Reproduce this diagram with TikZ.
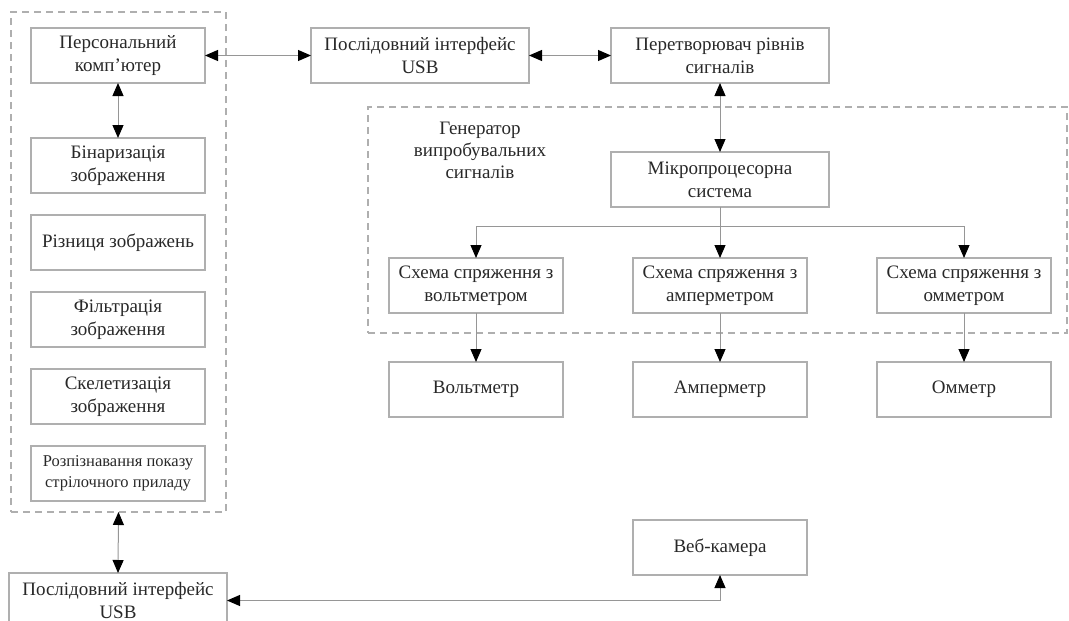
\documentclass[tikz,border=0pt]{standalone}
\usepackage{fontspec}
\setmainfont{Liberation Serif}
\usetikzlibrary{arrows.meta,positioning,calc,fit}

\definecolor{boxgray}{RGB}{175,175,175}
\definecolor{linegray}{RGB}{150,150,150}
\definecolor{textgray}{RGB}{40,40,40}

\tikzset{
  blk/.style={draw=boxgray, line width=1.3pt, minimum width=174pt, minimum height=55pt,
    inner sep=1pt, outer sep=0pt, align=center, text=textgray, font=\fontsize{19}{23}\selectfont},
  wide/.style={blk, minimum width=218pt},
  small/.style={font=\fontsize{16.5}{21}\selectfont},
  frame/.style={draw=boxgray, line width=1.3pt, dash pattern=on 7pt off 5pt, inner sep=0pt, outer sep=0pt},
  link/.style={draw=linegray, line width=1pt,
    {Triangle[length=13pt,width=11pt,color=black]}-{Triangle[length=13pt,width=11pt,color=black]}},
  fwd/.style={draw=linegray, line width=1pt, -{Triangle[length=13pt,width=11pt,color=black]}},
  txt/.style={align=center, text=textgray, font=\fontsize{19}{22}\selectfont}
}

\begin{document}
\begin{tikzpicture}
      \useasboundingbox (0,0) rectangle (1069pt,-621pt);
      % nodes

      % computer side
      \node[blk] (pc) at (118pt,-55.5pt) {Персональний\\комп’ютер};
      \node[blk, below=55pt of pc] (bin) {Бінаризація\\зображення};
      \node[blk, below=22pt of bin] (diff) {Різниця зображень};
      \node[blk, below=22pt of diff] (filt) {Фільтрація\\зображення};
      \node[blk, below=22pt of filt] (skel) {Скелетизація\\зображення};
      \node[blk, small, below=22pt of skel] (recog) {Розпізнавання показу\\стрілочного приладу};

      % interface chain
      \node[wide, right=106pt of pc] (usb_top) {Послідовний інтерфейс\\USB};
      \node[wide, right=82pt of usb_top] (conv) {Перетворювач рівнів\\сигналів};
      \node[wide, below=69pt of conv] (mcu) {Мікропроцесорна\\система};

      % interface circuits
      \node[blk, below=51pt of mcu] (sch_amp) {Схема спряження з\\амперметром};
      \node[blk, left=70pt of sch_amp] (sch_volt) {Схема спряження з\\вольтметром};
      \node[blk, right=70pt of sch_amp] (sch_ohm) {Схема спряження з\\омметром};

      % meters
      \node[blk, below=49pt of sch_volt] (voltmeter) {Вольтметр};
      \node[blk, below=49pt of sch_amp] (ammeter) {Амперметр};
      \node[blk, below=49pt of sch_ohm] (ohmmeter) {Омметр};

      \node[blk, below=103pt of ammeter] (webcam) {Веб-камера};
      \node[wide, below=72pt of recog] (usb_bottom) {Послідовний інтерфейс\\USB};

      % frames
      \coordinate (pc_nw) at ($(pc.north west)+(-20pt,16pt)$);
      \coordinate (pc_se) at ($(recog.south east)+(21pt,-11pt)$);
      \node[frame, fit={(pc_nw) (pc_se)}] (pc_group) {};

      \coordinate (gen_nw) at ($(sch_volt.west |- mcu.north)+(-21pt,45pt)$);
      \coordinate (gen_se) at ($(sch_ohm.south east)+(16pt,-20pt)$);
      \node[frame, fit={(gen_nw) (gen_se)}] (gen_group) {};
      \node[txt] (gen_label) at ($(sch_volt.north)+(4pt,108pt)$) {Генератор\\випробувальних\\сигналів};

      % edges
      \draw[link] (pc) -- (usb_top);
      \draw[link] (usb_top) -- (conv);
      \draw[link] (pc) -- (bin);
      \draw[link] (conv) -- (mcu);
      \coordinate (branch) at ($(mcu.south)+(0,-19pt)$);
      \draw[fwd] (mcu) -- (sch_amp);
      \draw[fwd] (branch) -| (sch_volt);
      \draw[fwd] (branch) -| (sch_ohm);
      \draw[fwd] (sch_volt) -- (voltmeter);
      \draw[fwd] (sch_amp) -- (ammeter);
      \draw[fwd] (sch_ohm) -- (ohmmeter);
      \draw[link] (pc_group.south) -- (usb_bottom.north);
      \draw[link] (usb_bottom.east) -| (webcam.south);

\end{tikzpicture}
\end{document}
